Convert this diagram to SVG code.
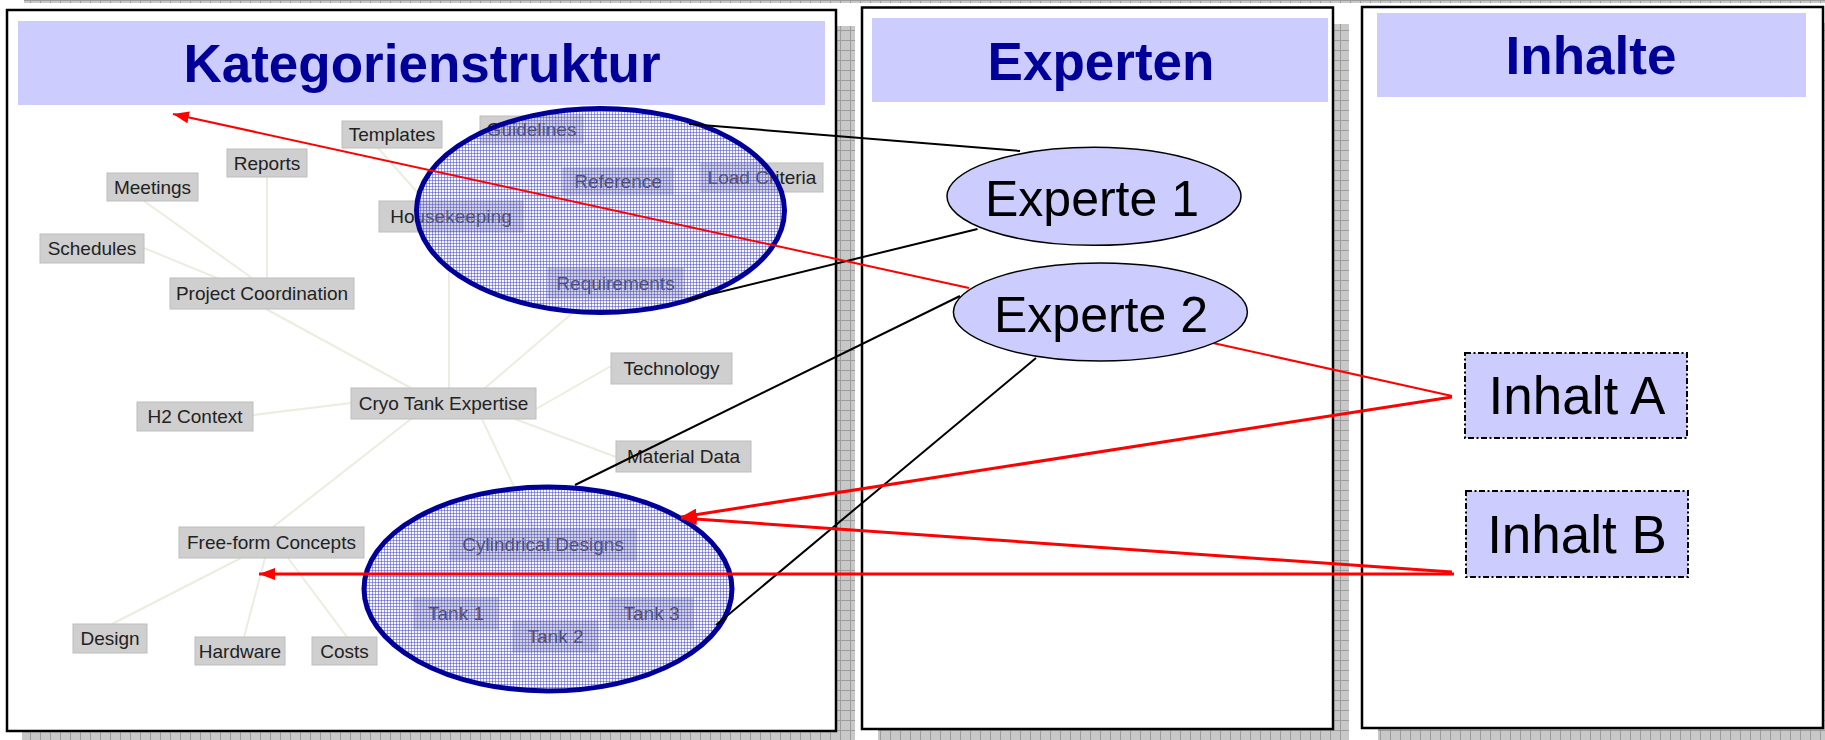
<svg xmlns="http://www.w3.org/2000/svg" width="1825" height="740" viewBox="0 0 1825 740">
<style>
.panel{fill:#fff;stroke:#000;stroke-width:2.5}
.band{fill:#ccccff}
.title{font-family:"Liberation Sans",Arial,sans-serif;font-weight:bold;font-size:53px;fill:#000099;text-anchor:middle}
.nd rect{fill:#cfcfcf;stroke:#bdbdbd;stroke-width:1}
.nd text{font-family:"Liberation Sans",Arial,sans-serif;font-size:19px;fill:#222;text-anchor:middle}
.mm{stroke:#ecece0;stroke-width:2;fill:none}
.grp{fill:url(#hatch);stroke:#000099;stroke-width:5}
.blk{stroke:#000;stroke-width:2;fill:none}
.red{stroke:#ff0000;stroke-width:2;fill:none}
.red3{stroke:#ff0000;stroke-width:3;fill:none}
.exp ellipse{fill:#ccccff;stroke:#000;stroke-width:1.5}
.exp text{font-family:"Liberation Sans",Arial,sans-serif;font-size:50px;fill:#000;text-anchor:middle}
.inh rect{fill:#ccccff;stroke:#000;stroke-width:2;stroke-dasharray:6 2.5 2 2.5}
.inh text{font-family:"Liberation Sans",Arial,sans-serif;font-size:53px;fill:#000;text-anchor:middle}
</style>
<defs>
<pattern id="shade" width="10" height="10" patternUnits="userSpaceOnUse">
<rect width="10" height="10" fill="#c8c8c8"/>
<path d="M0 0.5H10M0.5 0V10" stroke="#9c9c9c" stroke-width="1"/>
</pattern>
<pattern id="hatch" width="3" height="3" patternUnits="userSpaceOnUse">
<rect width="3" height="3" fill="#dcdcff" fill-opacity="0.25"/>
<path d="M0 0.5H3M0.5 0V3" stroke="#5050c8" stroke-width="1" stroke-opacity="0.55"/>
</pattern>
<marker id="arr" viewBox="0 0 16 12" refX="16" refY="6" markerWidth="16" markerHeight="12" markerUnits="userSpaceOnUse" orient="auto">
<path d="M0,0 L16,6 L0,12 z" fill="#ff0000"/>
</marker>
</defs>
<rect width="1825" height="740" fill="#fff"/>
<g id="shadows">
<rect x="24" y="0" width="1801" height="3" fill="url(#shade)"/>
<rect x="22" y="26" width="833" height="720" fill="url(#shade)"/>
<rect x="878" y="24" width="471" height="722" fill="url(#shade)"/>
<rect x="1378" y="23" width="461" height="722" fill="url(#shade)"/>
</g>
<g id="panel-kategorien">
<rect class="panel" x="7" y="10" width="829" height="721"/>
<rect class="band" x="18" y="21" width="807" height="84"/>
<text class="title" x="422" y="82">Kategorienstruktur</text>
</g>
<g id="panel-experten">
<rect class="panel" x="862" y="7.5" width="471" height="721.5"/>
<rect class="band" x="872" y="18" width="456" height="84"/>
<text class="title" x="1101" y="80">Experten</text>
</g>
<g id="panel-inhalte">
<rect class="panel" x="1362" y="7" width="461" height="721"/>
<rect class="band" x="1377" y="13" width="429" height="84"/>
<text class="title" x="1591" y="74">Inhalte</text>
</g>
<g id="mindmap-edges">
<line class="mm" x1="144" y1="201" x2="252" y2="278"/>
<line class="mm" x1="144" y1="248" x2="217" y2="278"/>
<line class="mm" x1="267" y1="177" x2="267" y2="278"/>
<line class="mm" x1="266" y1="309" x2="411" y2="388"/>
<line class="mm" x1="378" y1="148" x2="425" y2="201"/>
<line class="mm" x1="449" y1="232" x2="449" y2="388"/>
<line class="mm" x1="590" y1="298" x2="485" y2="388"/>
<line class="mm" x1="611" y1="366" x2="536" y2="409"/>
<line class="mm" x1="253" y1="415" x2="351" y2="403"/>
<line class="mm" x1="616" y1="457" x2="515" y2="419"/>
<line class="mm" x1="482" y1="419" x2="534" y2="529"/>
<line class="mm" x1="411" y1="419" x2="273" y2="527"/>
<line class="mm" x1="241" y1="558" x2="112" y2="624"/>
<line class="mm" x1="265" y1="558" x2="244" y2="637"/>
<line class="mm" x1="288" y1="558" x2="347" y2="637"/>
</g>
<g id="n-templates" class="nd"><rect x="342" y="121" width="100" height="27"/><text x="392" y="141.3">Templates</text></g>
<g id="n-guidelines" class="nd"><rect x="480" y="116" width="103" height="27"/><text x="531.5" y="136.3">Guidelines</text></g>
<g id="n-reports" class="nd"><rect x="227" y="149" width="80" height="28"/><text x="267" y="169.8">Reports</text></g>
<g id="n-meetings" class="nd"><rect x="107" y="173" width="91" height="28"/><text x="152.5" y="193.8">Meetings</text></g>
<g id="n-schedules" class="nd"><rect x="40" y="234" width="104" height="29"/><text x="92" y="255.3">Schedules</text></g>
<g id="n-housekeeping" class="nd"><rect x="379" y="201" width="144" height="31"/><text x="451" y="223.3">Housekeeping</text></g>
<g id="n-reference" class="nd"><rect x="563" y="168" width="110" height="26"/><text x="618" y="187.8">Reference</text></g>
<g id="n-loadcriteria" class="nd"><rect x="701" y="163" width="122" height="29"/><text x="762" y="184.3">Load Criteria</text></g>
<g id="n-requirements" class="nd"><rect x="548" y="268" width="135" height="30"/><text x="615.5" y="289.8">Requirements</text></g>
<g id="n-projectcoord" class="nd"><rect x="170" y="278" width="184" height="31"/><text x="262" y="300.3">Project Coordination</text></g>
<g id="n-technology" class="nd"><rect x="611" y="353" width="121" height="31"/><text x="671.5" y="375.3">Technology</text></g>
<g id="n-cryotank" class="nd"><rect x="351" y="388" width="185" height="31"/><text x="443.5" y="410.3">Cryo Tank Expertise</text></g>
<g id="n-h2context" class="nd"><rect x="137" y="402" width="116" height="29"/><text x="195" y="423.3">H2 Context</text></g>
<g id="n-materialdata" class="nd"><rect x="616" y="441" width="135" height="31"/><text x="683.5" y="463.3">Material Data</text></g>
<g id="n-freeform" class="nd"><rect x="179" y="527" width="185" height="31"/><text x="271.5" y="549.3">Free-form Concepts</text></g>
<g id="n-cylindrical" class="nd"><rect x="450" y="529" width="186" height="31"/><text x="543" y="551.3">Cylindrical Designs</text></g>
<g id="n-tank1" class="nd"><rect x="414" y="598" width="84" height="31"/><text x="456" y="620.3">Tank 1</text></g>
<g id="n-tank2" class="nd"><rect x="513" y="621" width="85" height="31"/><text x="555.5" y="643.3">Tank 2</text></g>
<g id="n-tank3" class="nd"><rect x="610" y="598" width="83" height="31"/><text x="651.5" y="620.3">Tank 3</text></g>
<g id="n-design" class="nd"><rect x="73" y="624" width="74" height="29"/><text x="110" y="645.3">Design</text></g>
<g id="n-hardware" class="nd"><rect x="195" y="637" width="90" height="28"/><text x="240" y="657.8">Hardware</text></g>
<g id="n-costs" class="nd"><rect x="312" y="637" width="65" height="28"/><text x="344.5" y="657.8">Costs</text></g>
<g id="group-upper"><ellipse class="grp" cx="600.5" cy="210.5" rx="184" ry="102"/></g>
<g id="group-lower"><ellipse class="grp" cx="548" cy="589" rx="184" ry="102"/></g>
<g id="connectors">
<line class="blk" x1="689" y1="124" x2="1020" y2="151"/>
<line class="blk" x1="687" y1="300" x2="977.5" y2="229"/>
<line class="blk" x1="575" y1="485" x2="960" y2="296"/>
<line class="blk" x1="716" y1="625" x2="1036" y2="358"/>
<line class="red" x1="969" y1="288" x2="173" y2="114" marker-end="url(#arr)"/>
<line class="red" x1="1213" y1="343" x2="1452" y2="396"/>
<line class="red3" x1="1452" y1="397" x2="681" y2="517" marker-end="url(#arr)"/>
<line class="red3" x1="1452" y1="572" x2="681" y2="518" marker-end="url(#arr)"/>
<line class="red3" x1="1454" y1="574" x2="259" y2="574" marker-end="url(#arr)"/>
</g>
<g id="experte1" class="exp"><ellipse cx="1094" cy="196.3" rx="147" ry="49"/><text x="1092" y="216">Experte 1</text></g>
<g id="experte2" class="exp"><ellipse cx="1100.4" cy="312" rx="147" ry="49"/><text x="1101" y="331.7">Experte 2</text></g>
<g id="inhaltA" class="inh"><rect x="1465" y="353" width="222" height="85"/><text x="1577" y="414">Inhalt A</text></g>
<g id="inhaltB" class="inh"><rect x="1466" y="491" width="222" height="86"/><text x="1577" y="553">Inhalt B</text></g>
</svg>
